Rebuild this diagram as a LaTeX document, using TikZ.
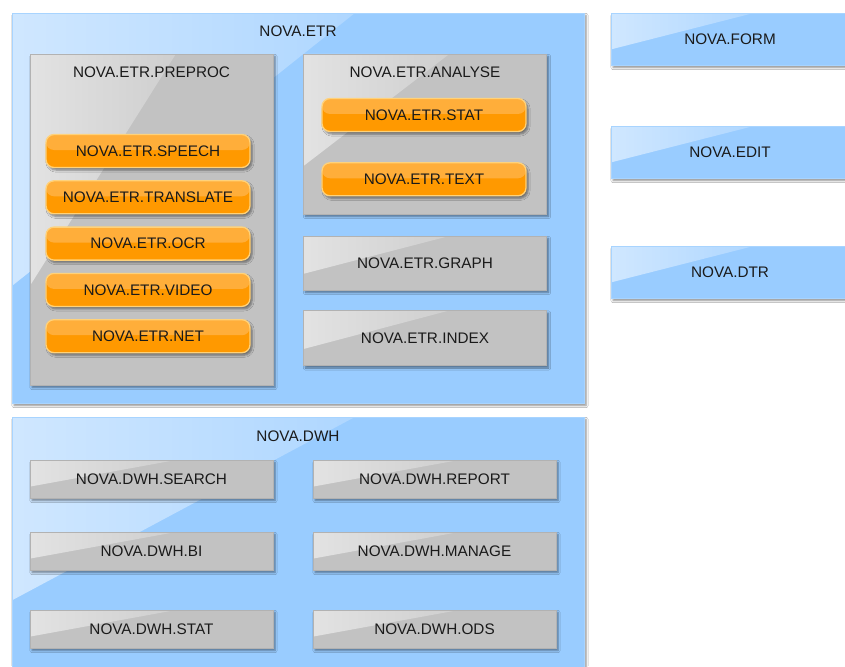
\documentclass[tikz,border=0pt]{standalone}
\usepackage{fontspec}
\setmainfont{Liberation Sans}
\usepackage{tikz}
\usetikzlibrary{positioning,shadows,shadows.blur,fadings,calc}
\definecolor{novablue}{HTML}{99CCFF}
\definecolor{novagrey}{HTML}{C2C2C2}
\definecolor{novaorange}{HTML}{FF9900}
\definecolor{novaorangelite}{HTML}{FFAE3A}
\definecolor{novaedge}{HTML}{FFD27A}
\definecolor{novatext}{HTML}{1A1A1A}
\tikzfading[name=glossfade, left color=transparent!10, right color=transparent!100]

\begin{document}
\begin{tikzpicture}[
		x=1pt, y=-1pt,
		font=\fontsize{15.3}{18}\selectfont,
		text=novatext,
		gloss/.style={
			path picture={
				\fill[white, fill opacity=#1, path fading=glossfade]
				(path picture bounding box.north west)
				-- ($(path picture bounding box.north west)!0.6!(path picture bounding box.north east)$)
				-- ($(path picture bounding box.north west)!0.7!(path picture bounding box.south west)$)
				-- cycle;
			}
		},
		shade/.style={
			blur shadow={shadow xshift=2pt, shadow yshift=-2.5pt,
				shadow blur steps=5, shadow opacity=45}
		},
		group/.style={
			rectangle,
			fill=novablue,
			draw=novablue!85!white,
			line width=0.5pt,
			shade,
			gloss=0.6
		},
		module/.style={
			rectangle,
			fill=novagrey,
			draw=novagrey!92!black,
			line width=0.3pt,
			shade,
			gloss=0.6,
			minimum width=243pt,
			text centered
		},
		button/.style={
			rectangle,
			rounded corners=8pt,
			fill=novaorange,
			draw=novaedge,
			line width=1.3pt,
			minimum width=204pt,
			minimum height=33pt,
			shade,
			path picture={
				\fill[novaorangelite]
				(path picture bounding box.north west) rectangle
				($(path picture bounding box.east)+(0,-1)$);
			}
		},
		title/.style={
			inner sep=0pt
		}
		]
		\useasboundingbox[fill=white] (0,0) rectangle (845,666);
		
		% We start by placing the blocks
		
		\node [group, minimum width=572pt, minimum height=390pt] (etr) at (298,208) {};
		\node [title] (etrtitle) at ([yshift=-18pt]etr.north) {NOVA.ETR};
		
		\node [module, minimum height=331pt] (preproc) at (151.5,219.5) {};
		\node [title] (preproctitle) at ([yshift=-18pt]preproc.north) {NOVA.ETR.PREPROC};
		
		\node [button] (speech) at (148,151) {NOVA.ETR.SPEECH};
		\node [button, below=12pt of speech] (translate) {NOVA.ETR.TRANSLATE};
		\node [button, below=12pt of translate] (ocr) {NOVA.ETR.OCR};
		\node [button, below=12pt of ocr] (video) {NOVA.ETR.VIDEO};
		\node [button, below=12pt of video] (net) {NOVA.ETR.NET};
		
		\node [module, minimum height=160pt] (analyse) at (425,134) {};
		\node [title] (analysetitle) at ([yshift=-18pt]analyse.north) {NOVA.ETR.ANALYSE};
		
		\node [button] (stat) at (424,115) {NOVA.ETR.STAT};
		\node [button, below=30pt of stat] (text) {NOVA.ETR.TEXT};
		
		\node [module, minimum height=54pt] (graph) at (425,263) {NOVA.ETR.GRAPH};
		\node [module, minimum height=55pt] (index) at (425,338) {NOVA.ETR.INDEX};
		
		% right hand column
		\node [group, minimum width=238pt, minimum height=52pt] (form) at (730,39) {NOVA.FORM};
		\node [group, minimum width=238pt, minimum height=52pt] (edit) at (730,152) {NOVA.EDIT};
		\node [group, minimum width=238pt, minimum height=52pt] (dtr) at (730,272) {NOVA.DTR};
		
		% data warehouse
		\node [group, minimum width=572pt, minimum height=262pt] (dwh) at (298,548) {};
		\node [title] (dwhtitle) at ([yshift=-19pt]dwh.north) {NOVA.DWH};
		
		\node [module, minimum height=38pt] (search) at (151.5,479) {NOVA.DWH.SEARCH};
		\node [module, minimum height=38pt] (report) at (434.5,479) {NOVA.DWH.REPORT};
		\node [module, minimum height=38pt] (bi) at (151.5,551) {NOVA.DWH.BI};
		\node [module, minimum height=38pt] (manage) at (434.5,551) {NOVA.DWH.MANAGE};
		\node [module, minimum height=38pt] (dwhstat) at (151.5,629) {NOVA.DWH.STAT};
		\node [module, minimum height=38pt] (ods) at (434.5,629) {NOVA.DWH.ODS};
		
\end{tikzpicture}
\end{document}
